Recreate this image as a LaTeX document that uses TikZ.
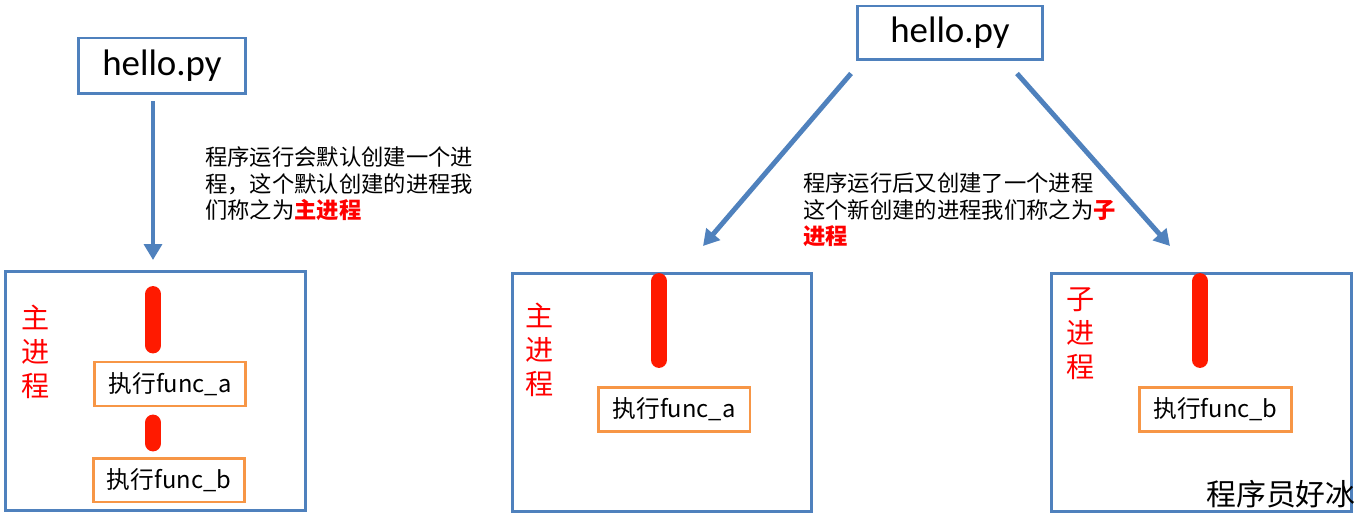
\documentclass[tikz,border=0pt]{standalone}
\usepackage{fontspec}
\setmainfont{Carlito}
\newfontfamily\cjk{Noto Sans CJK SC}
\usetikzlibrary{arrows.meta}
\definecolor{boxblue}{HTML}{4F81BD}
\definecolor{barred}{HTML}{FF1A00}
\definecolor{funcorange}{HTML}{F79646}

\begin{document}
\begin{tikzpicture}[x=0.02cm, y=-0.02cm,
  file/.style={draw=boxblue, line width=1.7pt, minimum width=3.34cm, minimum height=1.12cm, font=\fontsize{21}{25}\selectfont},
  proc/.style={draw=boxblue, line width=1.7pt, minimum width=6cm, minimum height=4.78cm},
  func/.style={draw=funcorange, line width=1.7pt, minimum width=3.04cm, minimum height=0.88cm, font=\cjk\fontsize{13.5}{16}\selectfont},
  note/.style={anchor=north west, inner sep=0pt, align=left, font=\cjk\fontsize{12.7}{15.3}\selectfont},
  tag/.style={text=red, align=center, font=\cjk\fontsize{16}{19.3}\selectfont},
  flow/.style={-{Triangle[width=10pt,length=9pt]}, boxblue, line width=2.8pt},
  bar/.style={barred, line width=9pt, line cap=round}]

\useasboundingbox (0,0) rectangle (1365,520);

% Left: one process
\node[file] (hl) at (162,66) {hello.py};
\node[proc] (lm) at (155.5,391) {};
\node[tag] (lt) at (36,352) {主\\进\\程};
\node[func] (fa) at (170,384) {执行func\_a};
\node[func] (fb) at (169,480) {执行func\_b};
\node[note] (ln) at (205,146) {程序运行会默认创建一个进\\程，这个默认创建的进程我\\们称之为\textcolor{red}{\bfseries 主进程}};

\coordinate (lx) at (153,294);
\draw[flow, shorten <=0.12cm, shorten >=0.2cm] (hl.south -| lx) -- (lx |- lm.north);
\draw[bar, shorten >=0.3cm] (lx) -- (lx |- fa.north);
\draw[bar, shorten <=0.3cm, shorten >=0.26cm] (lx |- fa.south) -- (lx |- fb.north);

% Right: main process and child process
\node[file, minimum width=3.7cm, minimum height=1.08cm] (hm) at (950,33) {hello.py};
\node[proc] (mm) at (662,392.5) {};
\node[proc] (cm) at (1201.5,392.5) {};
\node[tag] (mt) at (540,350) {主\\进\\程};
\node[tag] (ct) at (1081,334) {子\\进\\程};
\node[func] (ma) at (674,409.5) {执行func\_a};
\node[func] (cb) at (1215.5,409.5) {执行func\_b};
\node[note] (mn) at (803,172) {程序运行后又创建了一个进程\\这个新创建的进程我们称之为\textcolor{red}{\bfseries 子}\\\textcolor{red}{\bfseries 进程}};

\coordinate (ml) at (703,246);
\coordinate (cr) at (1170,246);
\draw[flow] ([xshift=-0.1cm, yshift=-0.24cm]hm.south west) -- (ml);
\draw[flow] ([xshift=-0.54cm, yshift=-0.24cm]hm.south east) -- (cr);

\coordinate (mx) at (659,281);
\coordinate (cx) at (1200,281);
\draw[bar, shorten >=0.52cm] (mx) -- (mx |- ma.north);
\draw[bar, shorten >=0.52cm] (cx) -- (cx |- cb.north);

\node[font=\cjk\fontsize{17}{20}\selectfont] (wm) at (1281,494) {程序员好冰};

\end{tikzpicture}
\end{document}
